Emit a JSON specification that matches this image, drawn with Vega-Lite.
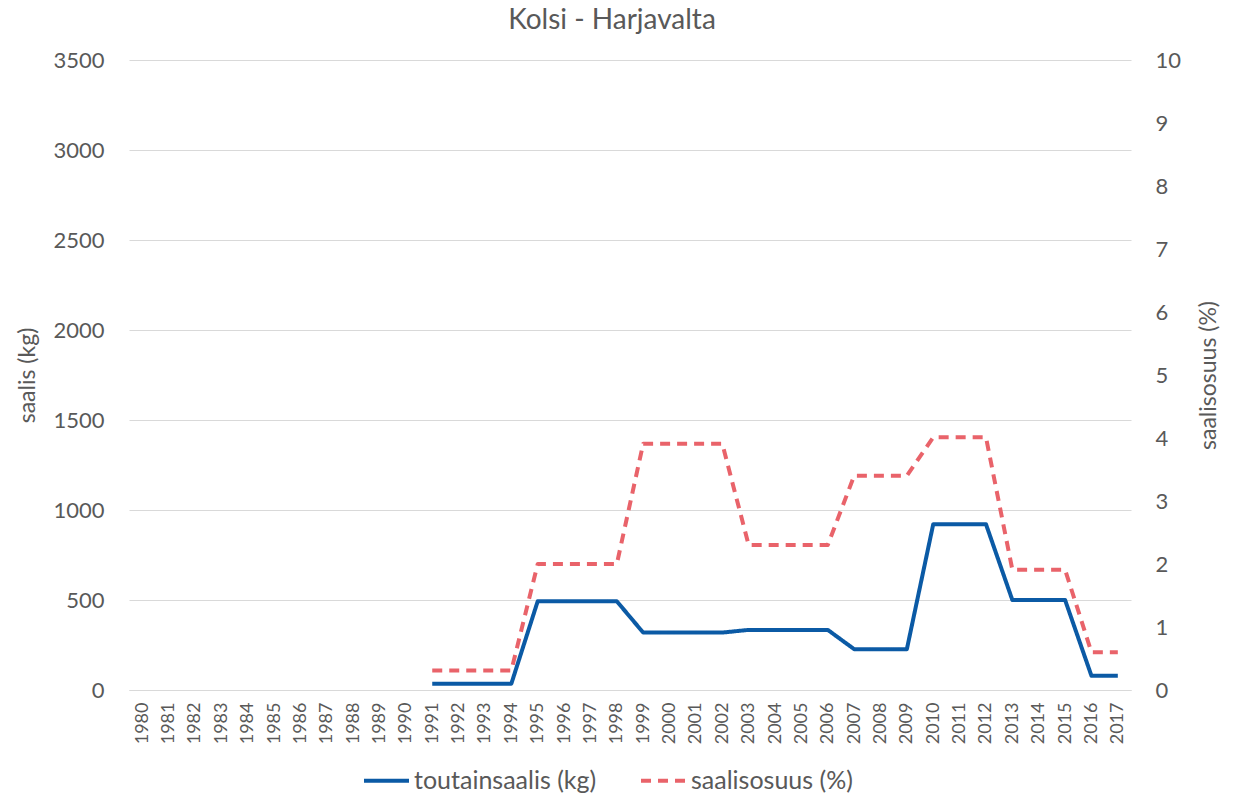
{
  "$schema": "https://vega.github.io/schema/vega-lite/v6.json",
  "width": 1002,
  "height": 630,
  "autosize": {"type": "none"},
  "padding": {"left": 129, "top": 60, "right": 104, "bottom": 109},
  "background": "white",
  "title": {"text": "Kolsi - Harjavalta", "fontSize": 28, "font": "Lato", "fontWeight": "normal", "color": "#595959", "offset": 14, "dx": -18},
  "config": {"view": {"stroke": null}, "font": "Lato", "title": {"fontSize": 28, "fontWeight": "normal", "color": "#595959"}},
  "data": {"values": [
    {"year": 1980, "kg": null, "pct": null},
    {"year": 1981, "kg": null, "pct": null},
    {"year": 1982, "kg": null, "pct": null},
    {"year": 1983, "kg": null, "pct": null},
    {"year": 1984, "kg": null, "pct": null},
    {"year": 1985, "kg": null, "pct": null},
    {"year": 1986, "kg": null, "pct": null},
    {"year": 1987, "kg": null, "pct": null},
    {"year": 1988, "kg": null, "pct": null},
    {"year": 1989, "kg": null, "pct": null},
    {"year": 1990, "kg": null, "pct": null},
    {"year": 1991, "kg": 35, "pct": 0.31},
    {"year": 1992, "kg": 35, "pct": 0.31},
    {"year": 1993, "kg": 35, "pct": 0.31},
    {"year": 1994, "kg": 35, "pct": 0.31},
    {"year": 1995, "kg": 493, "pct": 2.0},
    {"year": 1996, "kg": 493, "pct": 2.0},
    {"year": 1997, "kg": 493, "pct": 2.0},
    {"year": 1998, "kg": 493, "pct": 2.0},
    {"year": 1999, "kg": 319, "pct": 3.91},
    {"year": 2000, "kg": 319, "pct": 3.91},
    {"year": 2001, "kg": 319, "pct": 3.91},
    {"year": 2002, "kg": 319, "pct": 3.91},
    {"year": 2003, "kg": 334, "pct": 2.3},
    {"year": 2004, "kg": 334, "pct": 2.3},
    {"year": 2005, "kg": 334, "pct": 2.3},
    {"year": 2006, "kg": 334, "pct": 2.3},
    {"year": 2007, "kg": 227, "pct": 3.4},
    {"year": 2008, "kg": 227, "pct": 3.4},
    {"year": 2009, "kg": 227, "pct": 3.4},
    {"year": 2010, "kg": 921, "pct": 4.01},
    {"year": 2011, "kg": 921, "pct": 4.01},
    {"year": 2012, "kg": 921, "pct": 4.01},
    {"year": 2013, "kg": 500, "pct": 1.91},
    {"year": 2014, "kg": 500, "pct": 1.91},
    {"year": 2015, "kg": 500, "pct": 1.91},
    {"year": 2016, "kg": 79, "pct": 0.6},
    {"year": 2017, "kg": 79, "pct": 0.6}
  ]},
  "encoding": {
    "x": {
      "field": "year", "type": "ordinal",
      "scale": {"domain": [1980,1981,1982,1983,1984,1985,1986,1987,1988,1989,1990,1991,1992,1993,1994,1995,1996,1997,1998,1999,2000,2001,2002,2003,2004,2005,2006,2007,2008,2009,2010,2011,2012,2013,2014,2015,2016,2017]},
      "axis": {"title": null, "labelAngle": -90, "labelFontSize": 18, "labelColor": "#595959", "labelPadding": 12, "ticks": false, "domain": true, "domainColor": "#d9d9d9", "domainWidth": 1, "grid": false}
    }
  },
  "layer": [
    {
      "mark": {"type": "line", "strokeWidth": 4, "strokeJoin": "round"},
      "encoding": {
        "y": {"field": "kg", "type": "quantitative", "scale": {"domain": [0, 3500]},
          "axis": {"title": "saalis (kg)", "format": "d", "values": [0,500,1000,1500,2000,2500,3000,3500], "grid": true, "gridColor": "#d9d9d9", "gridWidth": 1, "domain": false, "ticks": false, "labelFontSize": 22, "labelColor": "#595959", "labelPadding": 25, "titleFontSize": 23, "titleFontWeight": "normal", "titleColor": "#595959", "titlePadding": 13}},
        "color": {"datum": "toutainsaalis (kg)", "type": "nominal",
          "scale": {"domain": ["toutainsaalis (kg)", "saalisosuus (%)"], "range": ["#0b5aa5", "#e9636a"]},
          "legend": {"title": null, "orient": "none", "legendX": 233, "legendY": 696, "direction": "horizontal", "labelFontSize": 25, "labelColor": "#595959", "labelLimit": 400, "symbolType": "stroke", "symbolSize": 2025, "symbolStrokeWidth": 4, "columnPadding": 36, "labelOffset": 3}},
        "strokeDash": {"datum": "toutainsaalis (kg)", "type": "nominal",
          "scale": {"domain": ["toutainsaalis (kg)", "saalisosuus (%)"], "range": [[1, 0], [10, 7]]},
          "legend": {"title": null, "orient": "none", "legendX": 233, "legendY": 696, "direction": "horizontal", "labelFontSize": 25, "labelColor": "#595959", "labelLimit": 400, "symbolType": "stroke", "symbolSize": 2025, "symbolStrokeWidth": 4, "columnPadding": 36, "labelOffset": 3}}
      }
    },
    {
      "mark": {"type": "line", "strokeWidth": 4, "strokeJoin": "round"},
      "encoding": {
        "y": {"field": "pct", "type": "quantitative", "scale": {"domain": [0, 10]},
          "axis": {"orient": "right", "title": "saalisosuus (%)", "titleAngle": 270, "values": [0,1,2,3,4,5,6,7,8,9,10], "grid": false, "domain": false, "ticks": false, "labelFontSize": 22, "labelColor": "#595959", "labelPadding": 24, "titleFontSize": 23, "titleFontWeight": "normal", "titleColor": "#595959", "titlePadding": 40}},
        "color": {"datum": "saalisosuus (%)", "type": "nominal"},
        "strokeDash": {"datum": "saalisosuus (%)", "type": "nominal"}
      }
    }
  ],
  "resolve": {"scale": {"y": "independent"}, "axis": {"y": "independent"}}
}
